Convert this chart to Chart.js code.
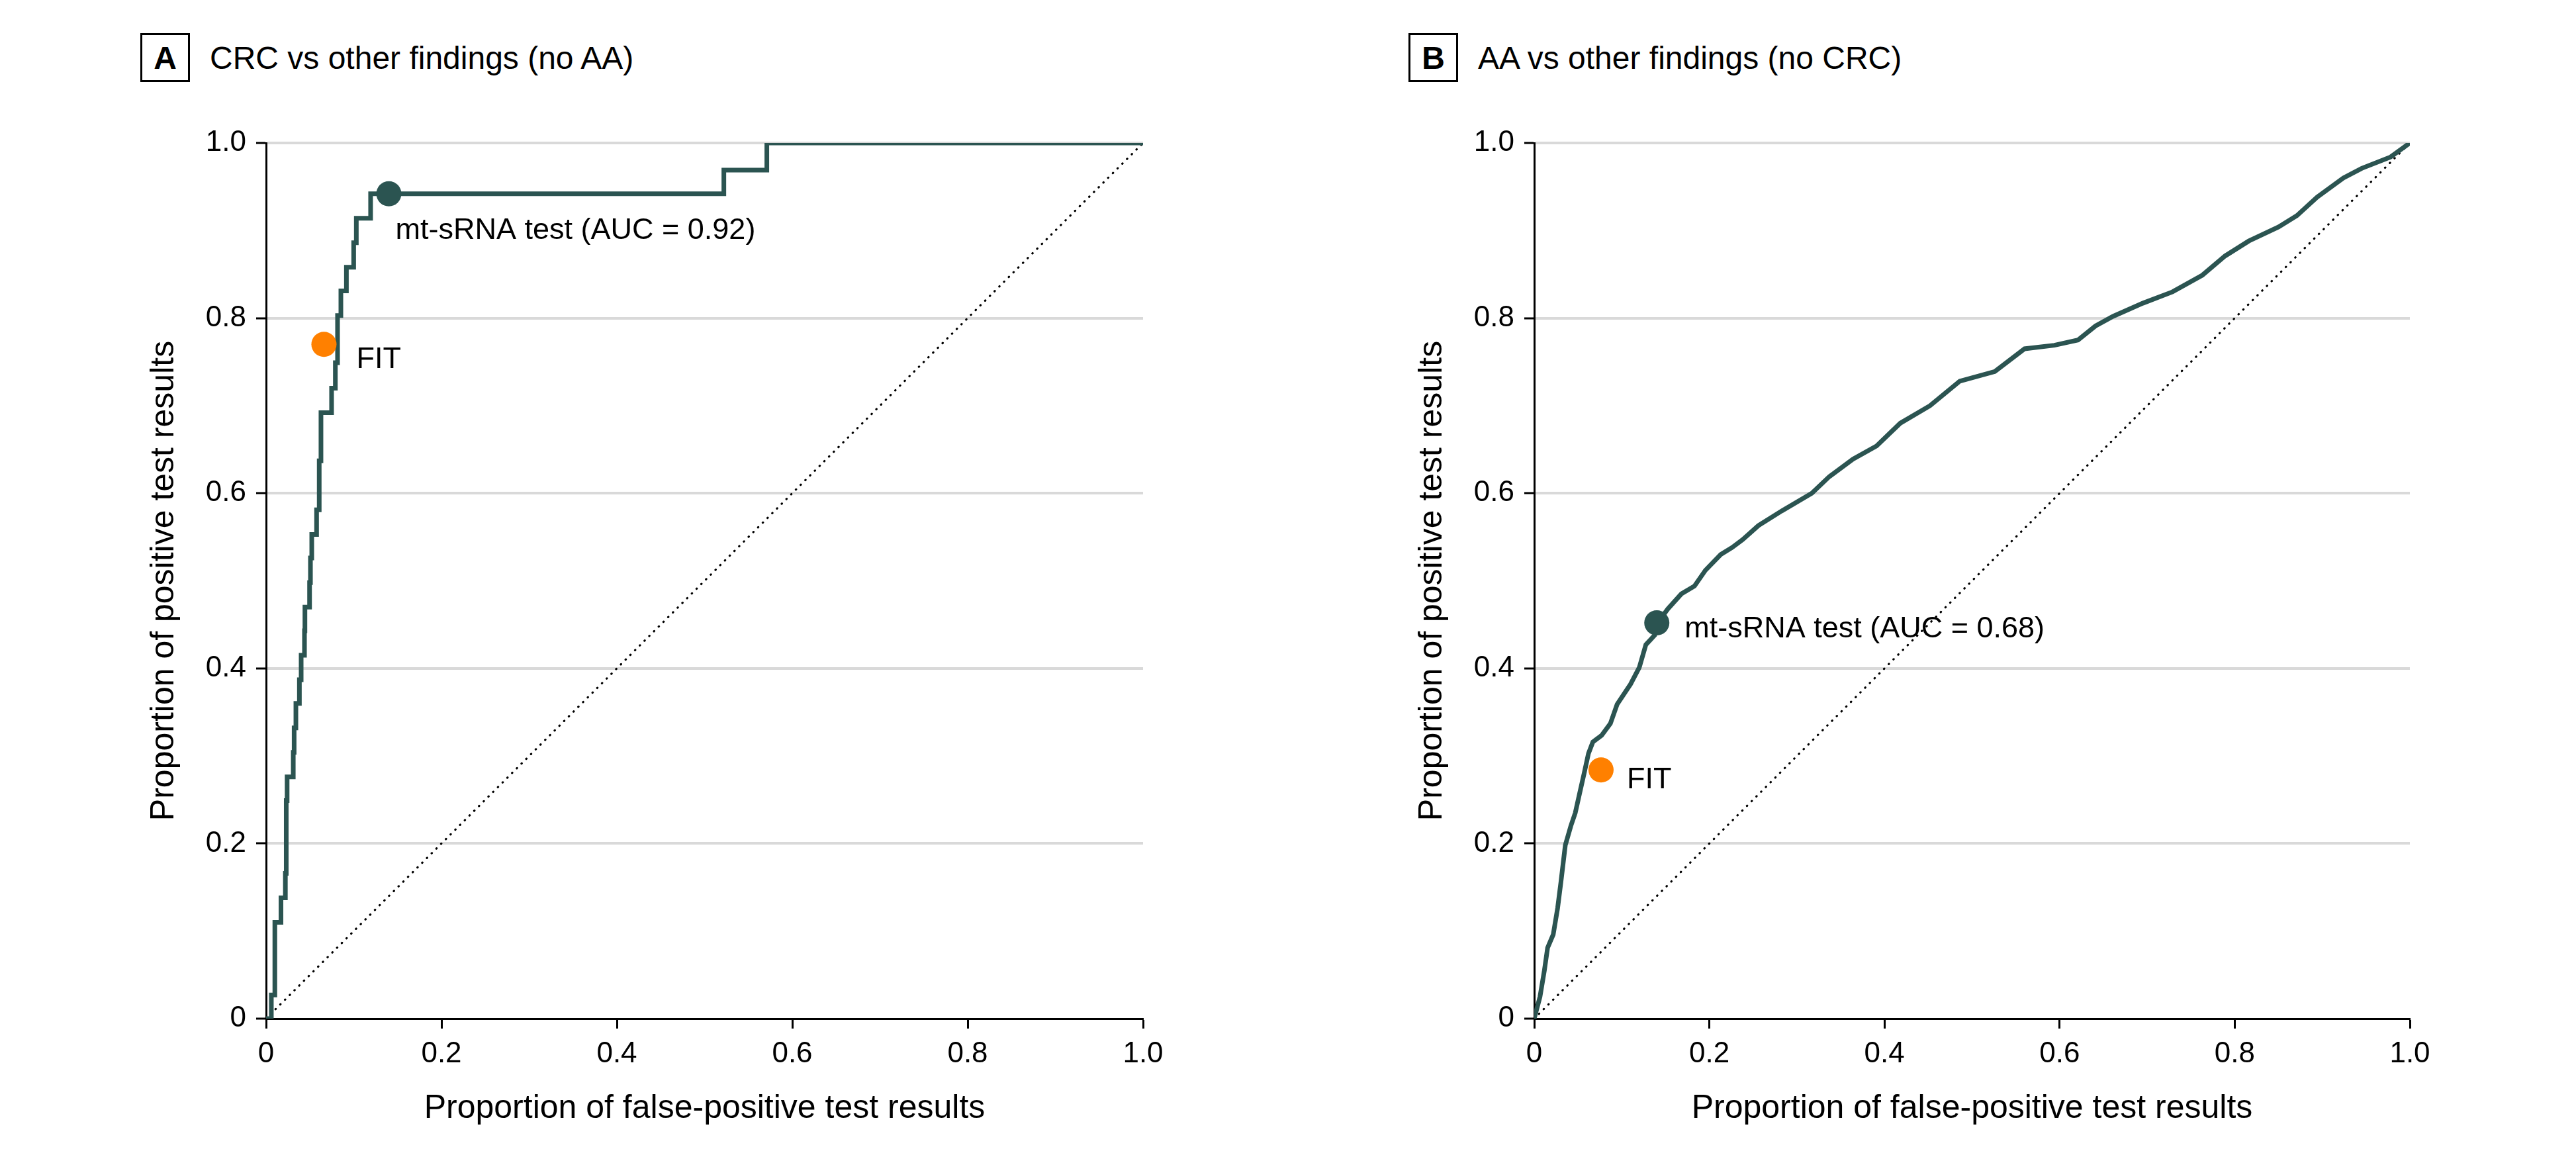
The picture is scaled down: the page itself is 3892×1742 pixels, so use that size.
<!DOCTYPE html>
<html>
<head>
<meta charset="utf-8">
<script src="https://cdn.jsdelivr.net/npm/chart.js@4.4.0/dist/chart.umd.min.js"></script>
<style>
  body { margin: 0; background: #fff; }
  #wrap { position: relative; width: 3892px; height: 1742px; overflow: hidden; font-family: "Liberation Sans", Arial, sans-serif; color: #000; }
  canvas { position: absolute; top: 0; }
  .tag { position: absolute; top: 50px; width: 75px; height: 74px; box-sizing: border-box; border: 3px solid #000;
         font-weight: bold; font-size: 48px; display: flex; align-items: center; justify-content: center; }
  .ttl { position: absolute; top: 64px; font-size: 48px; line-height: 48px; white-space: nowrap; }
</style>
</head>
<body>
<div id="wrap">
  <div class="tag" style="left:212px">A</div>
  <div class="ttl" style="left:317px">CRC vs other findings (no AA)</div>
  <div class="tag" style="left:2128px">B</div>
  <div class="ttl" style="left:2233px">AA vs other findings (no CRC)</div>
  <canvas id="chartA" width="1946" height="1742" style="left:0"></canvas>
  <canvas id="chartB" width="1946" height="1742" style="left:1946px"></canvas>
</div>
<script>
// === DATA ===
const tickValues = [0, 0.2, 0.4, 0.6, 0.8, 1.0];
const tickLabels = ["0", "0.2", "0.4", "0.6", "0.8", "1.0"];
const diagFpr = [0, 1];
const diagTpr = [0, 1];

// A: CRC vs other findings (no AA), stepped ROC vertices
const fprA = [0, 0.006, 0.010, 0.017, 0.022, 0.023, 0.024, 0.031, 0.032, 0.034, 0.038, 0.040, 0.0438, 0.0443,
              0.0496, 0.0506, 0.0521, 0.0576, 0.0606, 0.0626, 0.0747, 0.079, 0.0815, 0.0853, 0.0916, 0.0999,
              0.1029, 0.1192, 0.522, 0.571, 1.0];
const tprA = [0, 0.027, 0.110, 0.138, 0.166, 0.249, 0.276, 0.304, 0.332, 0.360, 0.387, 0.415, 0.443, 0.470,
              0.498, 0.526, 0.553, 0.581, 0.637, 0.692, 0.720, 0.749, 0.803, 0.831, 0.858, 0.886,
              0.914, 0.942, 0.969, 1.0, 1.0];
const mtFprA = [0.140], mtTprA = [0.942];
const fitFprA = [0.066], fitTprA = [0.770];

// B: AA vs other findings (no CRC)
const fprB = [0, 0.0066, 0.0116, 0.0153, 0.0217, 0.0267, 0.0305, 0.0355, 0.0418, 0.0469, 0.052, 0.057, 0.062,
              0.067, 0.077, 0.087, 0.0947, 0.110, 0.120, 0.1275, 0.1376, 0.140, 0.1527, 0.168, 0.183, 0.1955,
              0.213, 0.226, 0.238, 0.256, 0.283, 0.317, 0.337, 0.364, 0.391, 0.418, 0.452, 0.486, 0.526,
              0.560, 0.594, 0.621, 0.641, 0.661, 0.695, 0.729, 0.763, 0.789, 0.816, 0.850, 0.871, 0.894,
              0.924, 0.945, 0.978, 1.0];
const tprB = [0, 0.025, 0.055, 0.081, 0.096, 0.126, 0.156, 0.198, 0.220, 0.235, 0.258, 0.280, 0.303,
              0.316, 0.3235, 0.337, 0.359, 0.382, 0.401, 0.427, 0.438, 0.451, 0.468, 0.485, 0.494, 0.512,
              0.530, 0.538, 0.547, 0.563, 0.580, 0.600, 0.619, 0.639, 0.654, 0.680, 0.700, 0.728, 0.739,
              0.765, 0.769, 0.775, 0.791, 0.802, 0.817, 0.830, 0.849, 0.871, 0.888, 0.904, 0.917, 0.938,
              0.960, 0.971, 0.984, 1.0];
const mtFprB = [0.140], mtTprB = [0.452];
const fitFprB = [0.0763], fitTprB = [0.284];

const TEAL = "#2b5451";
const ORANGE = "#ff8000";
const FONT = "'Liberation Sans', Arial, sans-serif";

const pts = (xs, ys) => xs.map((x, i) => ({ x: x, y: ys[i] }));

// === POINT LABELS ===
const pointLabels = {
    id: "pointLabels",
    afterDatasetsDraw(chart, args, opts) {
        const { ctx, scales: { x, y } } = chart;
        ctx.save();
        ctx.font = "45px " + FONT;
        ctx.fillStyle = "#000";
        ctx.textBaseline = "middle";
        opts.items.forEach(it => {
            ctx.fillText(it.text, x.getPixelForValue(it.x) + it.dx, y.getPixelForValue(it.y) + it.dy);
        });
        ctx.restore();
    }
};

function axis(title, isY) {
    return {
        type: "linear", min: 0, max: 1,
        afterBuildTicks: s => { s.ticks = tickValues.map(v => ({ value: v })); },
        afterFit: s => { if (isY) s.width = 212; else s.height = 203; },
        grid: isY
            ? { color: c => (c.tick && c.tick.value === 0 ? "rgba(0,0,0,0)" : "#d9d9d9"), lineWidth: 4,
                tickLength: 15, tickColor: "#000", tickWidth: 3 }
            : { drawOnChartArea: false, tickLength: 15, tickColor: "#000", tickWidth: 3 },
        border: { color: "#000", width: 3 },
        ticks: {
            callback: (v, i) => tickLabels[i],
            font: { size: 44, family: FONT }, color: "#000",
            padding: isY ? 15 : 12, maxRotation: 0, autoSkip: false
        },
        title: {
            display: true, text: title, color: "#000",
            font: { size: 50, family: FONT },
            padding: isY ? { top: 28, bottom: 0 } : { top: 0, bottom: 37 }
        }
    };
}

function makeChart(id, curve, stepped, mt, fit, labels, pad) {
    new Chart(document.getElementById(id), {
        type: "scatter",
        data: {
            datasets: [
                { data: mt, pointRadius: 19, pointBackgroundColor: TEAL, pointBorderColor: TEAL, pointBorderWidth: 0 },
                { data: fit, pointRadius: 19, pointBackgroundColor: ORANGE, pointBorderColor: ORANGE, pointBorderWidth: 0 },
                { data: curve, showLine: true, stepped: stepped, borderColor: TEAL, borderWidth: 7,
                  pointRadius: 0, tension: 0, borderJoinStyle: "miter" },
                { data: pts(diagFpr, diagTpr), showLine: true, borderColor: "#000", borderWidth: 3.2,
                  borderDash: [0.5, 9.6], borderCapStyle: "round", pointRadius: 0 }
            ]
        },
        options: {
            responsive: false,
            animation: false,
            events: [],
            layout: { padding: pad },
            plugins: {
                legend: { display: false },
                tooltip: { enabled: false },
                pointLabels: { items: labels }
            },
            scales: {
                x: axis("Proportion of false-positive test results", false),
                y: axis("Proportion of positive test results", true)
            }
        },
        plugins: [pointLabels]
    });
}

// horizontal first, then vertical, between ROC vertices
makeChart("chartA", pts(fprA, tprA), "before", pts(mtFprA, mtTprA), pts(fitFprA, fitTprA), [
    { text: "mt-sRNA test (AUC = 0.92)", x: mtFprA[0], y: mtTprA[0], dx: 10, dy: 56 },
    { text: "FIT", x: fitFprA[0], y: fitTprA[0], dx: 49, dy: 23 }
], { left: 190, right: 219, top: 216, bottom: 0 });

makeChart("chartB", pts(fprB, tprB), false, pts(mtFprB, mtTprB), pts(fitFprB, fitTprB), [
    { text: "mt-sRNA test (AUC = 0.68)", x: mtFprB[0], y: mtTprB[0], dx: 42, dy: 10 },
    { text: "FIT", x: fitFprB[0], y: fitTprB[0], dx: 39, dy: 15 }
], { left: 160, right: 251, top: 216, bottom: 0 });
</script>
</body>
</html>
